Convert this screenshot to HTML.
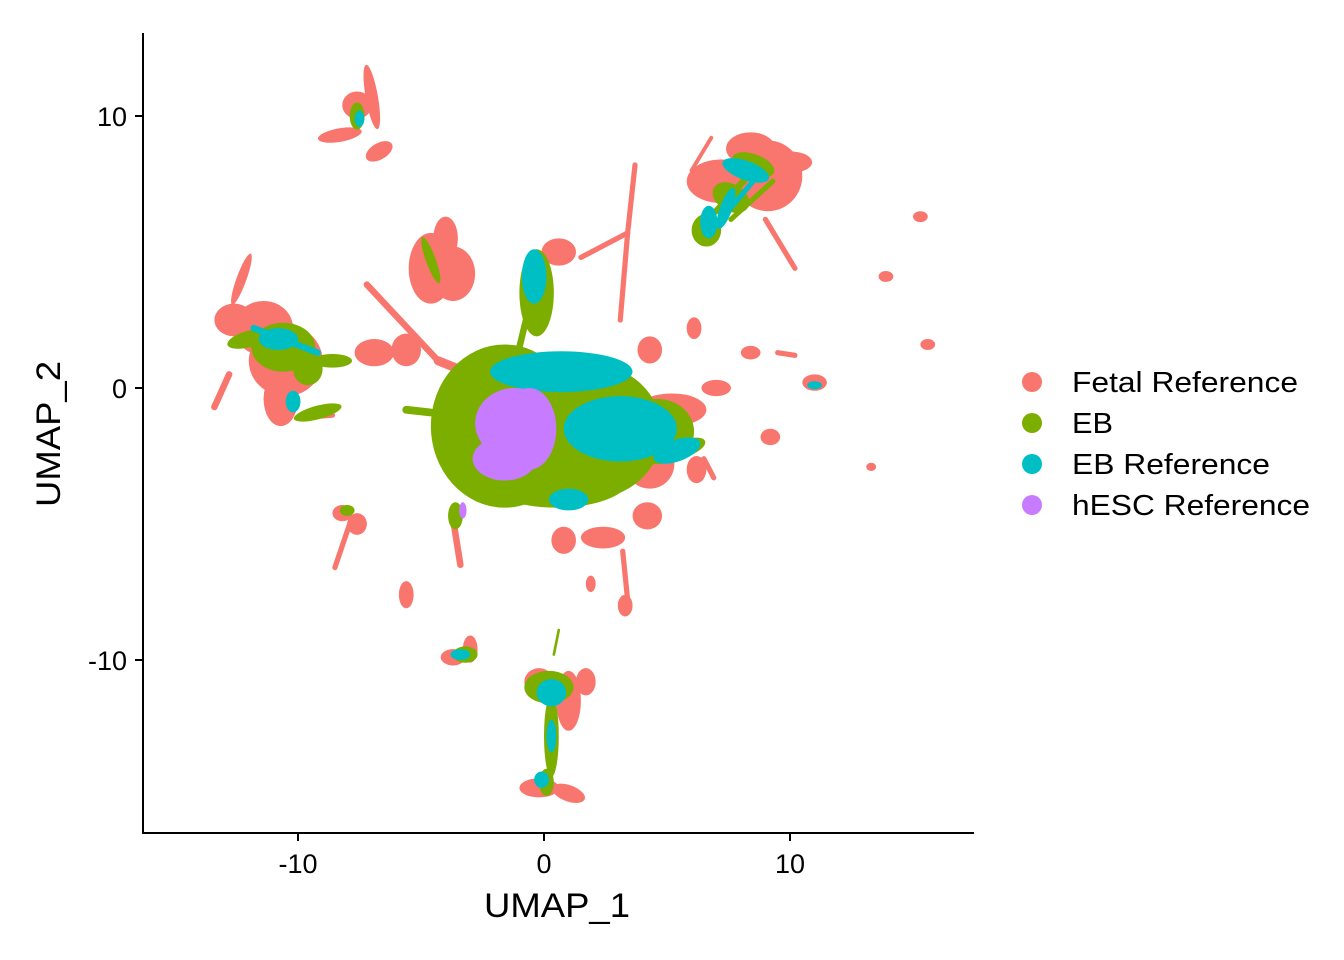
<!DOCTYPE html>
<html><head><meta charset="utf-8"><style>
body{margin:0;background:#fff;}
svg{display:block;font-family:"Liberation Sans",Arial,sans-serif;}
</style></head><body>
<svg id="chart" width="1344" height="960" viewBox="0 0 1344 960">
<g id="marks"></g>
<line x1="143" y1="33" x2="143" y2="833" stroke="#000" stroke-width="2"/>
<line x1="142" y1="833" x2="974" y2="833" stroke="#000" stroke-width="2"/>
<g id="axes"></g>
<text x="484" y="917" font-size="34" textLength="146" lengthAdjust="spacingAndGlyphs">UMAP_1</text>
<text transform="translate(60,507) rotate(-90)" font-size="34" textLength="146" lengthAdjust="spacingAndGlyphs">UMAP_2</text>
<g id="legend"></g>
</svg>
<script>
const groups = ["Fetal Reference","EB","EB Reference","hESC Reference"];
const colors = ["#F8766D","#7CAE00","#00BFC4","#C77CFF"];
const xTicks = [-10,0,10];
const yTicks = [10,0,-10];
// blobs: [group, x, y, rx, ry, rotation]
const blobs = [
[0,-7.6,10.4,0.6,0.5,0],[0,-7.0,10.7,0.25,1.2,-10],[0,-8.3,9.3,0.9,0.25,-10],[0,-6.7,8.7,0.6,0.3,-30],
[0,-12.6,2.5,0.8,0.6,0],[0,-11.4,2.2,1.2,1.0,0],[0,-10.5,1.0,1.5,1.3,0],[0,-10.7,-0.4,0.7,1.0,0],[0,-12.3,4.0,0.2,1.0,20],
[0,-4.6,4.4,0.9,1.3,0],[0,-4.0,5.5,0.5,0.8,0],[0,-3.7,4.2,0.9,1.0,0],
[0,7.2,7.6,1.4,0.8,0],[0,9.1,7.8,1.4,1.3,0],[0,8.4,8.8,1.0,0.6,0],[0,10.0,8.3,0.9,0.4,0],
[0,0.6,5.0,0.7,0.5,0],
[0,3.8,-1.5,1.4,1.2,0],[0,4.3,-2.8,1.0,0.9,0],[0,5.2,-0.8,1.4,0.6,0],[0,6.2,-3.0,0.4,0.5,0],
[0,0.8,-5.6,0.5,0.5,0],[0,4.2,-4.7,0.6,0.5,0],[0,2.4,-5.5,0.9,0.4,0],
[0,-0.2,-10.8,0.6,0.5,0],[0,1.0,-11.5,0.5,1.1,0],[0,1.7,-10.8,0.4,0.5,0],[0,-0.2,-14.7,0.8,0.35,0],[0,1.0,-14.9,0.7,0.3,20],
[0,-3.7,-9.9,0.5,0.3,0],[0,-3.0,-9.6,0.3,0.5,0],
[0,-8.2,-4.6,0.4,0.3,0],[0,-7.6,-5.0,0.4,0.4,0],[0,-5.6,-7.6,0.3,0.5,0],[0,3.3,-8.0,0.3,0.4,0],[0,1.9,-7.2,0.2,0.3,0],
[0,15.3,6.3,0.3,0.2,0],[0,15.6,1.6,0.3,0.2,0],[0,13.9,4.1,0.3,0.2,0],[0,11.0,0.2,0.5,0.3,0],[0,13.3,-2.9,0.2,0.15,0],
[0,8.4,1.3,0.4,0.25,0],[0,6.1,2.2,0.3,0.4,0],[0,9.2,-1.8,0.4,0.3,0],[0,4.3,1.4,0.5,0.5,0],[0,7.0,0.0,0.6,0.3,0],
[0,-6.9,1.3,0.8,0.5,0],[0,-5.6,1.4,0.6,0.6,0],
[1,-10.6,1.5,1.3,0.9,0],[1,-12.0,1.8,0.9,0.3,-15],[1,-9.6,0.7,0.6,0.6,0],[1,-8.6,1.0,0.8,0.25,0],[1,-9.2,-0.9,1.0,0.25,-15],
[1,-1.6,-1.4,3.0,3.0,0],[1,1.8,-1.6,3.0,2.5,0],[1,0.5,-3.3,3.0,1.1,0],[1,4.6,-1.6,1.5,1.2,0],[1,5.8,-2.2,0.8,0.3,-20],
[1,-0.3,3.5,0.7,1.6,0],[1,-3.6,-4.7,0.3,0.5,0],
[1,6.6,5.8,0.6,0.6,0],[1,7.6,7.0,0.8,0.5,30],[1,8.5,8.2,0.9,0.4,20],
[1,0.2,-11.0,1.0,0.6,0],[1,0.3,-12.8,0.3,1.5,0],[1,0.1,-14.5,0.3,0.5,0],[1,-3.2,-9.8,0.5,0.3,0],
[1,-7.6,10.0,0.3,0.5,0],[1,-4.6,4.7,0.2,0.9,-20],[1,-8.0,-4.5,0.3,0.2,0],
[2,0.7,0.6,2.9,0.75,0],[2,3.1,-1.5,2.3,1.2,0],[2,5.4,-2.3,1.0,0.4,-20],[2,1.0,-4.1,0.8,0.4,0],
[2,-0.4,4.1,0.5,1.0,0],[2,6.7,6.1,0.35,0.6,0],[2,8.2,8.0,1.0,0.35,20],[2,7.4,6.6,0.25,0.8,20],
[2,-10.8,1.8,0.8,0.4,0],[2,-10.2,-0.5,0.3,0.4,0],[2,0.3,-11.2,0.6,0.5,0],[2,0.3,-12.8,0.2,0.6,0],[2,-0.1,-14.4,0.3,0.3,0],
[2,11.0,0.1,0.3,0.15,0],[2,-3.4,-9.8,0.4,0.2,0],[2,-7.5,9.9,0.2,0.3,0],
[3,-1.2,-1.3,1.6,1.3,0],[3,-1.6,-2.6,1.3,0.8,0],[3,-0.6,-1.5,1.1,1.5,0],[3,-3.3,-4.5,0.15,0.3,0]
];
// strands: [group, x1, y1, x2, y2, widthUnits]
const strands = [
[0,-7.2,3.8,-4.3,1.0,0.25],[0,-4.3,1.0,-3.2,0.6,0.35],[0,1.5,4.8,3.4,5.7,0.2],[0,3.4,5.7,3.7,8.2,0.2],[0,3.4,5.7,3.1,2.5,0.2],
[0,6.0,8.0,6.8,9.2,0.15],[0,9.0,6.2,10.2,4.4,0.2],[0,3.2,-6.0,3.4,-7.8,0.2],[0,-3.7,-4.8,-3.4,-6.5,0.25],[0,-7.9,-5.0,-8.5,-6.6,0.2],
[0,-10.0,-1.1,-8.6,-1.0,0.2],[0,-12.8,0.5,-13.4,-0.7,0.25],[0,6.5,-2.6,6.9,-3.3,0.2],[0,9.5,1.3,10.2,1.2,0.2],
[1,-1.0,1.5,-0.6,3.0,0.25],[1,0.4,-9.8,0.6,-8.9,0.1],[1,-4.6,-0.9,-5.6,-0.8,0.3],[1,7.0,6.5,8.3,7.8,0.25],[1,7.6,6.2,9.3,7.6,0.2],
[2,7.1,6.1,8.5,7.6,0.2],[2,-11.8,2.2,-9.2,1.3,0.25]
];
const NS="http://www.w3.org/2000/svg";
const sx = x => 544 + 24.6*x;
const sy = y => 388 - 27.2*y;
const marks = document.getElementById('marks');
for (let g=0; g<4; g++){
  const layer = document.createElementNS(NS,'g');
  layer.setAttribute('fill', colors[g]);
  layer.setAttribute('stroke', colors[g]);
  
  
  marks.appendChild(layer);
  strands.filter(s=>s[0]===g).forEach(s=>{
    const l=document.createElementNS(NS,'line');
    l.setAttribute('x1',sx(s[1]));l.setAttribute('y1',sy(s[2]));
    l.setAttribute('x2',sx(s[3]));l.setAttribute('y2',sy(s[4]));
    l.setAttribute('stroke-width',s[5]*26);l.setAttribute('stroke-linecap','round');
    
    
    layer.appendChild(l);
  });
  blobs.filter(b=>b[0]===g).forEach(b=>{
    const e=document.createElementNS(NS,'ellipse');
    const cx=sx(b[1]), cy=sy(b[2]);
    e.setAttribute('cx',cx);e.setAttribute('cy',cy);
    e.setAttribute('rx',b[3]*24.6);e.setAttribute('ry',b[4]*27.2);
    e.setAttribute('stroke','none');
    if(b[5]) e.setAttribute('transform','rotate('+b[5]+' '+cx+' '+cy+')');
    
    
    layer.appendChild(e);
  });
}
const axes=document.getElementById('axes');
xTicks.forEach(t=>{
  const l=document.createElementNS(NS,'line');
  l.setAttribute('x1',sx(t));l.setAttribute('x2',sx(t));l.setAttribute('y1',833);l.setAttribute('y2',841);
  l.setAttribute('stroke','#000');l.setAttribute('stroke-width',2);
  
  
  axes.appendChild(l);
  const tx=document.createElementNS(NS,'text');
  tx.setAttribute('x',sx(t));tx.setAttribute('y',873);tx.setAttribute('font-size',27);tx.setAttribute('text-anchor','middle');
  tx.textContent=t;
  
  
  axes.appendChild(tx);
});
yTicks.forEach(t=>{
  const l=document.createElementNS(NS,'line');
  l.setAttribute('x1',135);l.setAttribute('x2',143);l.setAttribute('y1',sy(t));l.setAttribute('y2',sy(t));
  l.setAttribute('stroke','#000');l.setAttribute('stroke-width',2);
  
  
  axes.appendChild(l);
  const tx=document.createElementNS(NS,'text');
  tx.setAttribute('x',127);tx.setAttribute('y',sy(t)+10);tx.setAttribute('font-size',27);tx.setAttribute('text-anchor','end');
  tx.textContent=t;
  
  
  axes.appendChild(tx);
});
const legend=document.getElementById('legend');
const legendWidths=[226,41,198,238];
groups.forEach((g,i)=>{
  const y=382+41*i;
  const c=document.createElementNS(NS,'circle');
  c.setAttribute('cx',1032);c.setAttribute('cy',y);c.setAttribute('r',10);c.setAttribute('fill',colors[i]);
  
  
  legend.appendChild(c);
  const tx=document.createElementNS(NS,'text');
  tx.setAttribute('x',1072);tx.setAttribute('y',y+10);tx.setAttribute('font-size',29);
  tx.setAttribute('textLength',legendWidths[i]);tx.setAttribute('lengthAdjust','spacingAndGlyphs');
  tx.textContent=g;
  
  
  legend.appendChild(tx);
});
</script>
</body></html>
